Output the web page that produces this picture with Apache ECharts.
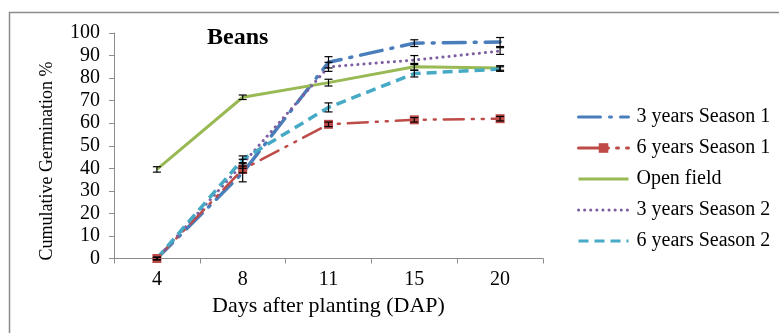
<!DOCTYPE html>
<html>
<head>
<meta charset="utf-8">
<script src="https://cdn.jsdelivr.net/npm/echarts@6/dist/echarts.min.js"></script>
<style>html,body{margin:0;padding:0;background:#fff}#c{width:779px;height:333px}</style>
</head>
<body>
<div id="c"></div>
<script>
var categories = ['4', '8', '11', '15', '20'];
var yTicks = [0, 10, 20, 30, 40, 50, 60, 70, 80, 90, 100];
var names = ['3 years Season 1', '6 years Season 1', 'Open field', '3 years Season 2', '6 years Season 2'];
var threeS1 = [0, 38, 87, 95.5, 96];
var sixS1 = [0, 39.5, 59.5, 61.5, 62];
var openField = [39.5, 71.5, 78, 85, 84.5];
var threeS2 = [0, 42, 85, 88, 92];
var sixS2 = [0, 44, 67, 82, 84];
var threeS1Err = [0.5, 4, 2.5, 1.5, 2];
var sixS1Err = [0.5, 1.5, 1, 1, 1];
var openFieldErr = [1.2, 1, 1.5, 1.5, 1];
var threeS2Err = [0.5, 2, 2, 2, 1.5];
var sixS2Err = [0.5, 1.5, 2, 1.5, 1];

var serif = 'Liberation Serif';
var chart = echarts.init(document.getElementById('c'), null, {renderer: 'canvas'});

function errData(vals, errs) {
  return vals.map(function (v, i) { return [i, v - errs[i], v + errs[i]]; });
}
function errSeries(vals, errs) {
  return {
    type: 'custom',
    silent: true,
    z: 5,
    renderItem: function (params, api) {
      var lo = api.coord([api.value(0), api.value(1)]);
      var hi = api.coord([api.value(0), api.value(2)]);
      var w = 4;
      var st = {stroke: '#000', lineWidth: 1.2};
      return {type: 'group', children: [
        {type: 'line', shape: {x1: lo[0], y1: lo[1], x2: hi[0], y2: hi[1]}, style: st},
        {type: 'line', shape: {x1: lo[0] - w, y1: lo[1], x2: lo[0] + w, y2: lo[1]}, style: st},
        {type: 'line', shape: {x1: hi[0] - w, y1: hi[1], x2: hi[0] + w, y2: hi[1]}, style: st}
      ]};
    },
    data: errData(vals, errs)
  };
}

var hideSym = {opacity: 0};
var legLine = {width: 3};

var option = {
  backgroundColor: '#fff',
  animation: false,
  textStyle: {fontFamily: serif},
  grid: {left: 114, right: 236, top: 33, bottom: 74.5, containLabel: false},
  graphic: [
    {type: 'rect', shape: {x: 9.5, y: 12.5, width: 800, height: 400}, style: {fill: 'none', stroke: '#8c8c8c', lineWidth: 1.5}, silent: true},
    {type: 'text', left: 207, top: 26, style: {text: 'Beans', font: 'bold 24px "Liberation Serif"', fill: '#000'}},
    {type: 'text', x: 47, y: 161, rotation: Math.PI / 2, style: {text: 'Cumulative Germination %', font: '18px "Liberation Serif"', fill: '#000', align: 'center', verticalAlign: 'middle'}}
  ],
  legend: {
    orient: 'vertical',
    left: 572,
    top: 102,
    padding: 5,
    itemWidth: 50,
    itemHeight: 12,
    itemGap: 11,
    textStyle: {fontFamily: serif, fontSize: 20, color: '#000', padding: [0, 0, 0, 3]},
    data: [
      {name: names[0], itemStyle: hideSym, lineStyle: legLine},
      {name: names[1], lineStyle: legLine},
      {name: names[2], itemStyle: hideSym, lineStyle: legLine},
      {name: names[3], itemStyle: hideSym, lineStyle: legLine},
      {name: names[4], itemStyle: hideSym, lineStyle: legLine}
    ]
  },
  xAxis: {
    type: 'category',
    data: categories,
    boundaryGap: true,
    name: 'Days after planting (DAP)',
    nameLocation: 'middle',
    nameGap: 37,
    nameTextStyle: {fontFamily: serif, fontSize: 22, color: '#000'},
    axisLine: {lineStyle: {color: '#8c8c8c', width: 1}},
    axisTick: {show: true, length: 5, lineStyle: {color: '#8c8c8c'}},
    axisLabel: {fontFamily: serif, fontSize: 20, color: '#000', margin: 11},
    splitLine: {show: false}
  },
  yAxis: {
    type: 'value',
    min: yTicks[0],
    max: yTicks[yTicks.length - 1],
    interval: 10,
    axisLine: {show: true, lineStyle: {color: '#8c8c8c', width: 1}},
    axisTick: {show: true, length: 5, lineStyle: {color: '#8c8c8c'}},
    axisLabel: {fontFamily: serif, fontSize: 20, color: '#000', margin: 14},
    splitLine: {show: false}
  },
  series: [
    {name: names[0], type: 'line', data: threeS1, symbol: 'none', z: 3,
      itemStyle: {color: '#4A7EBB'},
      lineStyle: {color: '#4A7EBB', width: 3.5, type: [22, 9, 2, 9], cap: 'round'}},
    {name: names[1], type: 'line', data: sixS1, symbol: 'rect', symbolSize: 9, z: 3,
      itemStyle: {color: '#BE4B48'},
      lineStyle: {color: '#BE4B48', width: 2.5, type: [20, 8, 2, 8, 2, 8], cap: 'round'}},
    {name: names[2], type: 'line', data: openField, symbol: 'none', z: 3,
      itemStyle: {color: '#98B954'},
      lineStyle: {color: '#98B954', width: 3}},
    {name: names[3], type: 'line', data: threeS2, symbol: 'none', z: 3,
      itemStyle: {color: '#7D5FA0'},
      lineStyle: {color: '#7D5FA0', width: 3, type: [0.1, 6], cap: 'round'}},
    {name: names[4], type: 'line', data: sixS2, symbol: 'none', z: 3,
      itemStyle: {color: '#46AAC5'},
      lineStyle: {color: '#46AAC5', width: 3.5, type: [10, 6]}},
    errSeries(threeS1, threeS1Err),
    errSeries(sixS1, sixS1Err),
    errSeries(openField, openFieldErr),
    errSeries(threeS2, threeS2Err),
    errSeries(sixS2, sixS2Err)
  ]
};
chart.setOption(option);
</script>
</body>
</html>
